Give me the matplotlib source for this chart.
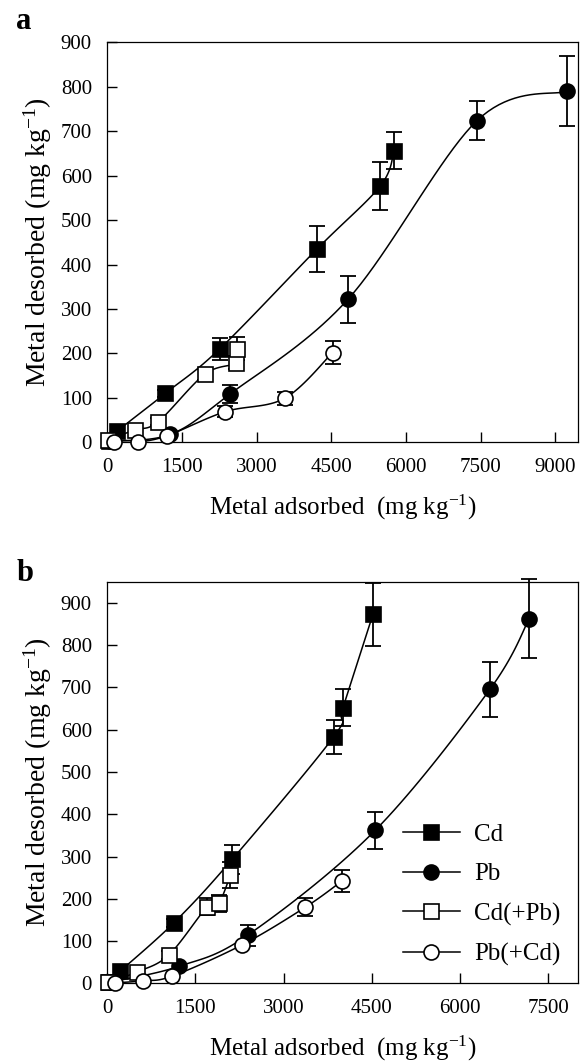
import numpy as np
import matplotlib.pyplot as plt
from matplotlib.lines import Line2D

plt.rcParams['font.family'] = ['Liberation Serif', 'DejaVu Serif']
plt.rcParams['mathtext.fontset'] = 'custom'
plt.rcParams['mathtext.rm'] = 'Liberation Serif'
plt.rcParams['mathtext.it'] = 'Liberation Serif:italic'

# ---- panel a data (mg/kg) ----
cd_a_x = [30, 200, 1165, 2257, 4213, 5485, 5760]
cd_a_y = [3, 25, 110, 210, 435, 577, 656]
cd_a_err = [0, 0, 8, 24, 51, 54, 42]

pb_a_x = [60, 1270, 2458, 4836, 7428, 9237]
pb_a_y = [3, 18, 108, 322, 724, 790]
pb_a_err = [0, 0, 20, 53, 43, 79]

cdpb_a_x = [20, 549, 1018, 1955, 2592, 2612]
cdpb_a_y = [5, 28, 46, 153, 179, 211]
cdpb_a_err = [0, 0, 8, 12, 15, 25]

pbcd_a_x = [135, 617, 1205, 2371, 3563, 4528]
pbcd_a_y = [1, 1, 15, 69, 99, 202]
pbcd_a_err = [0, 0, 0, 13, 15, 26]

# ---- panel b data ----
cd_b_x = [30, 215, 1131, 2123, 3849, 4008, 4518]
cd_b_y = [3, 28, 143, 293, 583, 652, 873]
cd_b_err = [0, 0, 10, 34, 41, 44, 75]

pb_b_x = [60, 1216, 2388, 4557, 6510, 7177]
pb_b_y = [3, 40, 114, 362, 696, 863]
pb_b_err = [0, 0, 25, 44, 65, 94]

cdpb_b_x = [20, 510, 1047, 1698, 1896, 2094]
cdpb_b_y = [3, 27, 67, 181, 189, 256]
cdpb_b_err = [0, 0, 10, 20, 20, 30]

pbcd_b_x = [124, 611, 1104, 2293, 3368, 3991]
pbcd_b_y = [1, 6, 17, 91, 180, 242]
pbcd_b_err = [0, 0, 0, 0, 21, 27]

labels = ['Cd', 'Pb', 'Cd(+Pb)', 'Pb(+Cd)']
markers = ['s', 'o', 's', 'o']
faces = ['black', 'black', 'white', 'white']

xticks_a = [0, 1500, 3000, 4500, 6000, 7500, 9000]
xticks_b = [0, 1500, 3000, 4500, 6000, 7500]
yticks = [0, 100, 200, 300, 400, 500, 600, 700, 800, 900]


# smooth line through the points (like a spreadsheet "smoothed line")
def smooth(x, y, n=20):
    p = np.column_stack([x, y]).astype(float)
    p = np.vstack([p[0], p, p[-1]])
    out = [p[1]]
    t = np.linspace(0, 1, n + 1)[1:, None]
    for i in range(1, len(p) - 2):
        p0, p1, p2, p3 = p[i - 1], p[i], p[i + 1], p[i + 2]
        c1 = p1 + (p2 - p0) / 6.0
        c2 = p2 - (p3 - p1) / 6.0
        seg = ((1 - t) ** 3) * p1 + 3 * ((1 - t) ** 2) * t * c1 \
            + 3 * (1 - t) * t ** 2 * c2 + t ** 3 * p2
        out.extend(seg)
    out = np.array(out)
    return out[:, 0], out[:, 1]


def draw(ax, series):
    for (x, y, err), m, fc in zip(series, markers, faces):
        sx, sy = smooth(x, y)
        ax.plot(sx, sy, color='black', lw=1.1, zorder=2)
        x = np.array(x); y = np.array(y); err = np.array(err)
        k = err > 0
        eb = ax.errorbar(x[k], y[k], yerr=err[k], fmt='none', ecolor='black',
                         elinewidth=1.3, capsize=6, capthick=1.3, zorder=3)
        for art in eb.lines[1] + eb.lines[2]:
            art.set_clip_on(False)
        ax.plot(x, y, ls='none', marker=m, ms=10.8, mfc=fc, mec='black',
                mew=1.2, zorder=4, clip_on=False)


def style(ax, xmax, ymax, xt):
    ax.set_xlim(0, xmax)
    ax.set_ylim(0, ymax)
    ax.set_xticks(xt)
    ax.set_yticks(yticks)
    ax.tick_params(direction='in', length=7.5, width=1, labelsize=15, pad=11)
    for s in ax.spines.values():
        s.set_linewidth(0.9)
    ax.set_xlabel('Metal adsorbed  (mg kg$^{\\mathrm{-1}}$)', fontsize=18, labelpad=12)
    ax.set_ylabel('Metal desorbed (mg kg$^{\\mathrm{-1}}$)', fontsize=20, labelpad=5)


fig = plt.figure(figsize=(5.83, 10.62), dpi=100)
ax1 = fig.add_axes([0.1840, 0.5835, 0.8069, 0.3766])
ax2 = fig.add_axes([0.1840, 0.0741, 0.8069, 0.3781])

draw(ax1, [(cd_a_x, cd_a_y, cd_a_err), (pb_a_x, pb_a_y, pb_a_err),
           (cdpb_a_x, cdpb_a_y, cdpb_a_err), (pbcd_a_x, pbcd_a_y, pbcd_a_err)])
style(ax1, 9450, 900, xticks_a)

draw(ax2, [(cd_b_x, cd_b_y, cd_b_err), (pb_b_x, pb_b_y, pb_b_err),
           (cdpb_b_x, cdpb_b_y, cdpb_b_err), (pbcd_b_x, pbcd_b_y, pbcd_b_err)])
style(ax2, 8000, 950, xticks_b)

handles = [Line2D([], [], color='black', lw=1.1, marker=m, ms=10.8, mfc=fc,
                  mec='black', mew=1.2) for m, fc in zip(markers, faces)]
ax2.legend(handles, labels, loc='upper left', bbox_to_anchor=(0.628, 0.398),
           frameon=False, fontsize=18, handlelength=2.3, handletextpad=0.55,
           labelspacing=0.68, borderpad=0, borderaxespad=0)

fig.text(0.041, 0.973, 'a', fontsize=22, fontweight='bold', ha='center', va='baseline')
fig.text(0.043, 0.453, 'b', fontsize=22, fontweight='bold', ha='center', va='baseline')

fig.savefig('out.png', dpi=100)
